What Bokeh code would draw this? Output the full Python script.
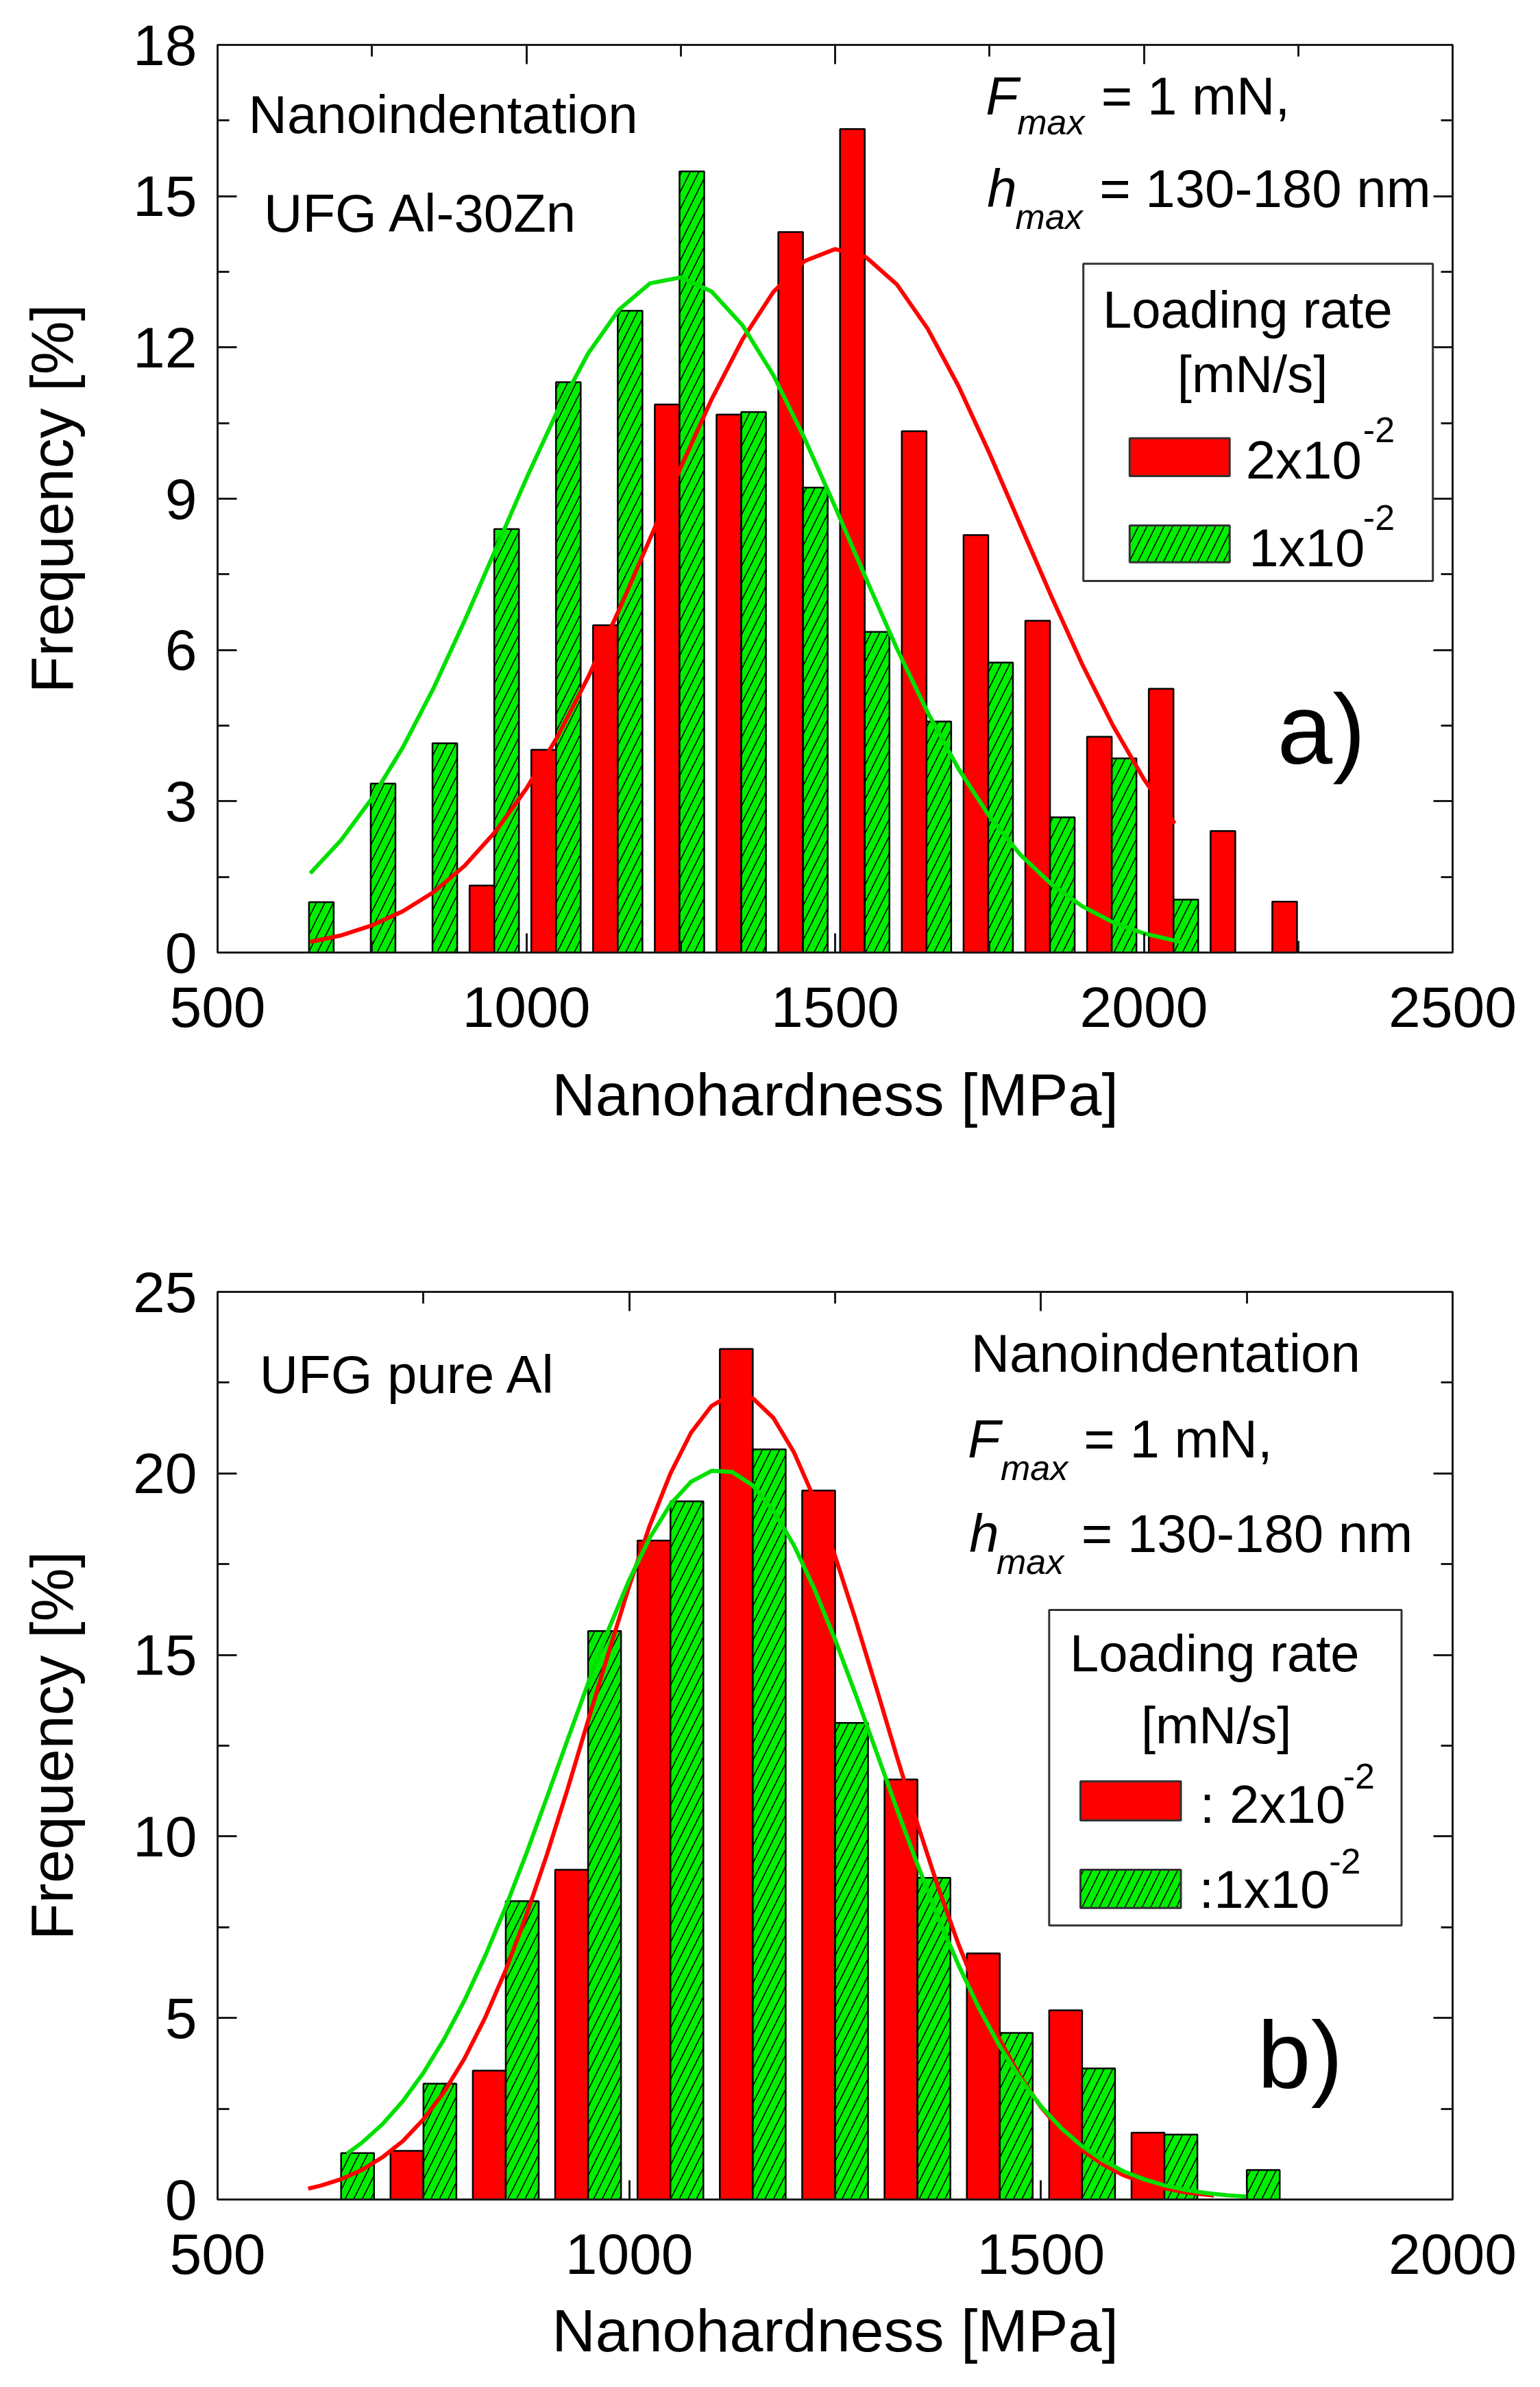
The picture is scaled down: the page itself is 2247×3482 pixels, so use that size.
from bokeh.plotting import figure
from bokeh.models import FixedTicker, LinearAxis, Label, BoxAnnotation, Range1d, CustomLabelingPolicy
from bokeh.layouts import column
from bokeh.embed import file_html
from bokeh.resources import INLINE

# ---------------- data ----------------
# panel a) UFG Al-30Zn
a_red_x = [928, 1028, 1128, 1228, 1328, 1428, 1528, 1628, 1728, 1828, 1928, 2028, 2128, 2228]
a_red_y = [1.33, 4.02, 6.49, 10.87, 10.67, 14.29, 16.33, 10.34, 8.28, 6.58, 4.28, 5.23, 2.41, 1.01]
a_green_x = [668, 768, 868, 968, 1068, 1168, 1268, 1368, 1468, 1568, 1668, 1768, 1868, 1968, 2068]
a_green_y = [1.00, 3.35, 4.15, 8.40, 11.31, 12.73, 15.49, 10.72, 9.22, 6.36, 4.58, 5.75, 2.68, 3.85, 1.05]

a_red_fit_x = [650, 700, 750, 800, 850, 900, 950, 1000, 1050, 1100, 1150, 1200, 1250, 1300, 1350,
               1400, 1450, 1500, 1550, 1600, 1650, 1700, 1750, 1800, 1850, 1900, 1950, 2000, 2050]
a_red_fit_y = [0.21, 0.34, 0.54, 0.82, 1.20, 1.72, 2.40, 3.25, 4.27, 5.46, 6.79, 8.20, 9.62, 10.97, 12.16,
               13.10, 13.71, 13.95, 13.79, 13.25, 12.37, 11.23, 9.90, 8.48, 7.07, 5.72, 4.50, 3.44, 2.56]
a_green_fit_x = [650, 700, 750, 800, 850, 900, 950, 1000, 1050, 1100, 1150, 1200, 1250, 1300, 1350,
                 1400, 1450, 1500, 1550, 1600, 1650, 1700, 1750, 1800, 1850, 1900, 1950, 2000, 2060]
a_green_fit_y = [1.57, 2.23, 3.06, 4.07, 5.25, 6.58, 7.99, 9.40, 10.73, 11.88, 12.75, 13.27, 13.39, 13.11, 12.44,
                 11.45, 10.21, 8.84, 7.42, 6.03, 4.76, 3.64, 2.70, 1.94, 1.36, 0.92, 0.60, 0.38, 0.21]

# panel b) UFG pure Al
b_red_x = [730, 830, 930, 1030, 1130, 1230, 1330, 1430, 1530, 1630]
b_red_y = [1.34, 3.55, 9.08, 18.15, 23.43, 19.53, 11.57, 6.78, 5.21, 1.84]
b_green_x = [670, 770, 870, 970, 1070, 1170, 1270, 1370, 1470, 1570, 1670, 1770]
b_green_y = [1.28, 3.19, 8.22, 15.66, 19.23, 20.66, 13.13, 8.86, 4.59, 3.61, 1.79, 0.81]

b_red_fit_x = [610, 625, 650, 675, 700, 725, 750, 775, 800, 825, 850, 875, 900, 925, 950, 975, 1000,
               1025, 1050, 1075, 1100, 1125, 1150, 1175, 1200, 1225, 1250, 1275, 1300, 1325, 1350,
               1375, 1400, 1425, 1450, 1475, 1500, 1525, 1550, 1575, 1600, 1625, 1650, 1675, 1710]
b_red_fit_y = [0.30, 0.38, 0.56, 0.81, 1.16, 1.61, 2.21, 2.96, 3.89, 5.01, 6.32, 7.83, 9.50, 11.30, 13.19,
               15.07, 16.90, 18.57, 20.00, 21.12, 21.86, 22.19, 22.07, 21.53, 20.58, 19.29, 17.72, 15.96,
               14.10, 12.20, 10.35, 8.61, 7.02, 5.61, 4.40, 3.38, 2.55, 1.88, 1.36, 0.97, 0.67, 0.46,
               0.31, 0.20, 0.11]
b_green_fit_x = [657, 675, 700, 725, 750, 775, 800, 825, 850, 875, 900, 925, 950, 975, 1000, 1025,
                 1050, 1075, 1100, 1125, 1150, 1175, 1200, 1225, 1250, 1275, 1300, 1325, 1350, 1375,
                 1400, 1425, 1450, 1475, 1500, 1525, 1550, 1575, 1600, 1625, 1650, 1675, 1700, 1725, 1750]
b_green_fit_y = [1.26, 1.56, 2.07, 2.71, 3.49, 4.41, 5.49, 6.71, 8.06, 9.53, 11.08, 12.66, 14.22, 15.71,
                 17.07, 18.23, 19.15, 19.77, 20.07, 20.04, 19.67, 18.98, 18.02, 16.81, 15.42, 13.91,
                 12.34, 10.76, 9.23, 7.78, 6.45, 5.26, 4.22, 3.32, 2.57, 1.96, 1.47, 1.08, 0.78, 0.56,
                 0.39, 0.27, 0.18, 0.12, 0.08]

# ticks
a_xticks = [500, 1000, 1500, 2000, 2500]
a_xminor = [750, 1250, 1750, 2250]
a_yticks = [0, 3, 6, 9, 12, 15, 18]
a_yminor = [1.5, 4.5, 7.5, 10.5, 13.5, 16.5]
b_xticks = [500, 1000, 1500, 2000]
b_xminor = [750, 1250, 1750]
b_yticks = [0, 5, 10, 15, 20, 25]
b_yminor = [2.5, 7.5, 12.5, 17.5, 22.5]

# ---------------- style ----------------
FONT = "Liberation Sans"
RED = "#FF0000"
GREEN_BAR = "#00EE00"
GREEN_LINE = "#00E000"
AX = "#1a1a1a"
BAR_W = 40


def style_axis(ax):
    ax.axis_line_width = 3
    ax.axis_line_color = AX
    ax.major_tick_in = 28
    ax.major_tick_out = 0
    ax.minor_tick_in = 17
    ax.minor_tick_out = 0
    ax.major_tick_line_width = 3
    ax.minor_tick_line_width = 3
    ax.major_tick_line_color = AX
    ax.minor_tick_line_color = AX


def make_fig(xr, yr, xt, xm, yt, ym, w, h, bl, br, bt, bb, xlab_standoff):
    p = figure(width=w, height=h, x_range=Range1d(*xr), y_range=Range1d(*yr),
               output_backend="svg", toolbar_location=None,
               min_border_left=bl, min_border_right=br, min_border_top=bt, min_border_bottom=bb)
    p.xgrid.visible = False
    p.ygrid.visible = False
    p.background_fill_color = "white"
    p.border_fill_color = "white"
    p.outline_line_color = AX
    p.outline_line_width = 3
    xtick = FixedTicker(ticks=xt, minor_ticks=xm)
    ytick = FixedTicker(ticks=yt, minor_ticks=ym)
    p.xaxis.ticker = xtick
    p.yaxis.ticker = ytick
    for ax in (p.xaxis[0], p.yaxis[0]):
        style_axis(ax)
        ax.major_label_text_font = FONT
        ax.major_label_text_font_size = "84px"
        ax.major_label_text_color = "black"
        ax.axis_label_text_font = FONT
        ax.axis_label_text_font_size = "88px"
        ax.axis_label_text_font_style = "normal"
        ax.axis_label_text_color = "black"
    p.xaxis.axis_label = "Nanohardness [MPa]"
    p.yaxis.axis_label = "Frequency [%]"
    p.xaxis.major_label_standoff = 50
    p.xaxis.axis_label_standoff = xlab_standoff
    p.yaxis.major_label_standoff = 30
    p.yaxis.axis_label_standoff = 66
    for side, tk in (("above", xtick), ("right", ytick)):
        ax = LinearAxis(ticker=tk, major_label_policy=CustomLabelingPolicy(code="return []"))
        ax.major_label_standoff = 0
        style_axis(ax)
        p.add_layout(ax, side)
    return p


def bars(p, rx, ry, gx, gy):
    p.vbar(x=rx, top=ry, bottom=0, width=BAR_W, fill_color=RED, line_color="black", line_width=2.5)
    p.vbar(x=gx, top=gy, bottom=0, width=BAR_W, fill_color=GREEN_BAR, line_color="black",
           line_width=2.5, hatch_pattern="/", hatch_color="black", hatch_weight=1.6, hatch_scale=25)


def labeller(p, px_per_unit):
    def lab(x, y, text, size, style="normal", align="left"):
        # lift so that y is the glyph baseline
        yy = y + 0.23 * size / px_per_unit
        p.add_layout(Label(x=x, y=yy, text=text, text_font=FONT, text_font_size=f"{size}px",
                           text_font_style=style, text_align=align, text_baseline="alphabetic",
                           text_color="black"))
    return lab


def box(p, l, r, b, t, fill, hatch=None):
    kw = dict(left=l, right=r, bottom=b, top=t, fill_color=fill, fill_alpha=1,
              line_color="#333333", line_width=3, line_alpha=1)
    if hatch:
        kw.update(hatch_pattern=hatch, hatch_color="black", hatch_weight=1.6, hatch_scale=25)
    p.add_layout(BoxAnnotation(**kw))


# ---------------- panel a ----------------
p1 = make_fig((500, 2500), (0, 18), a_xticks, a_xminor, a_yticks, a_yminor,
              2231, 1700, 317, 110, 65, 311, 46)
bars(p1, a_red_x, a_red_y, a_green_x, a_green_y)
p1.line(a_red_fit_x, a_red_fit_y, line_color=RED, line_width=6)
p1.line(a_green_fit_x, a_green_fit_y, line_color=GREEN_LINE, line_width=6)

lab = labeller(p1, 1324 / 18)
lab(550, 16.38, "Nanoindentation", 78)
lab(575, 14.42, "UFG Al-30Zn", 78)
lab(1744, 16.75, "F", 78, "italic")
lab(1795, 16.31, "max", 52, "italic")
lab(1931, 16.75, "= 1 mN,", 78)
lab(1746, 14.91, "h", 78, "italic")
lab(1792, 14.43, "max", 52, "italic")
lab(1928, 14.91, "= 130-180 nm", 78)
box(p1, 1902, 2468, 7.37, 13.66, "white")
lab(2168, 12.51, "Loading rate", 76, align="center")
lab(2176, 11.24, "[mN/s]", 76, align="center")
box(p1, 1977, 2139, 9.45, 10.20, RED)
lab(2165, 9.52, "2x10", 78)
lab(2355, 10.20, "-2", 52)
box(p1, 1977, 2139, 7.74, 8.47, GREEN_BAR, hatch="/")
lab(2170, 7.79, "1x10", 78)
lab(2355, 8.47, "-2", 52)
lab(2216, 3.97, "a)", 145)

# ---------------- panel b ----------------
p2 = make_fig((500, 2000), (0, 25), b_xticks, b_xminor, b_yticks, b_yminor,
              2231, 1760, 315, 112, 184, 252, 30)
bars(p2, b_red_x, b_red_y, b_green_x, b_green_y)
p2.line(b_red_fit_x, b_red_fit_y, line_color=RED, line_width=6)
p2.line(b_green_fit_x, b_green_fit_y, line_color=GREEN_LINE, line_width=6)

lab = labeller(p2, 1324 / 25)
lab(551, 22.39, "UFG pure Al", 78)
lab(1415, 22.98, "Nanoindentation", 78)
lab(1411, 20.62, "F", 78, "italic")
lab(1451, 19.94, "max", 52, "italic")
lab(1552, 20.62, "= 1 mN,", 78)
lab(1413, 18.0, "h", 78, "italic")
lab(1446, 17.35, "max", 52, "italic")
lab(1549, 18.0, "= 130-180 nm", 78)
box(p2, 1510, 1938, 7.55, 16.24, "white")
lab(1711, 14.71, "Loading rate", 76, align="center")
lab(1713, 12.73, "[mN/s]", 76, align="center")
box(p2, 1548, 1670, 10.44, 11.52, RED)
lab(1693, 10.54, ": 2x10", 78)
lab(1867, 11.44, "-2", 52)
box(p2, 1548, 1670, 8.03, 9.08, GREEN_BAR, hatch="/")
lab(1692, 8.21, ":1x10", 78)
lab(1850, 9.10, "-2", 52)
lab(1763, 3.38, "b)", 140)

layout = column(p1, p2, spacing=0)
open("out.html", "w").write(file_html(layout, INLINE))
